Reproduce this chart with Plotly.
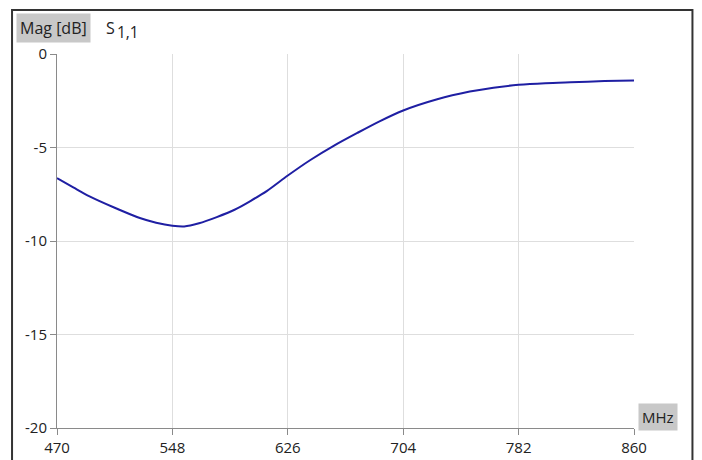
import plotly.graph_objects as go

freq_mhz = [470, 481, 492, 509, 526, 537, 548, 556, 566, 578, 590, 601, 612, 626, 641,
            657, 673, 688, 704, 727, 749, 765, 782, 800, 817, 840, 860]
s11_db = [-6.64, -7.13, -7.61, -8.22, -8.77, -9.02, -9.18, -9.22, -9.05, -8.72, -8.33,
          -7.85, -7.32, -6.50, -5.68, -4.91, -4.22, -3.60, -3.02, -2.42, -2.01, -1.80,
          -1.65, -1.56, -1.51, -1.45, -1.42]
x_ticks = [470, 548, 626, 704, 782, 860]
y_ticks = [0, -5, -10, -15, -20]

W, H = 702, 460
OFF = 8  # page body margin
ML, MT = 57 - OFF, 54 - OFF
MR = W - (634.5 - OFF)
MB = H - (428.5 - OFF)
PW, PH = W - ML - MR, H - MT - MB

def px(x):  # page pixel -> paper
    return (x - OFF - ML) / PW

def py(y):
    return (H - MB - (y - OFF)) / PH

FONT = "Open Sans"

fig = go.Figure()
fig.add_trace(go.Scatter(x=freq_mhz, y=s11_db, mode="lines",
                         line=dict(color="#1f1fa3", width=2, shape="spline", smoothing=0.8),
                         hoverinfo="skip", showlegend=False))

axis_common = dict(showgrid=True, gridcolor="#dedede", gridwidth=1,
                   showline=True, linecolor="#8a8a8a", linewidth=1,
                   ticks="outside", ticklen=6, tickcolor="#8a8a8a",
                   zeroline=False, fixedrange=True,
                   tickfont=dict(family=FONT, size=15, color="#222"))

fig.update_layout(
    width=W, height=H,
    margin=dict(l=ML, r=MR, t=MT, b=MB),
    paper_bgcolor="white", plot_bgcolor="white",
    font=dict(family=FONT, size=15, color="#222"),
    xaxis=dict(range=[470, 860], tickvals=x_ticks, ticktext=[str(v) for v in x_ticks],
               **axis_common),
    yaxis=dict(range=[-20, 0], tickvals=y_ticks, ticktext=[str(v) for v in y_ticks],
               **axis_common),
    shapes=[dict(type="rect", xref="paper", yref="paper",
                 x0=px(12), x1=px(693), y0=py(480), y1=py(10),
                 line=dict(color="#333", width=2), fillcolor="rgba(0,0,0,0)", layer="above")],
    annotations=[
        dict(text="Mag [dB]", xref="paper", yref="paper", x=px(16), y=py(28),
             xanchor="left", yanchor="middle", showarrow=False,
             bgcolor="#c8c8c8", borderpad=3, font=dict(size=16, color="#222")),
        dict(text="S", xref="paper", yref="paper", x=px(104), y=py(28),
             xanchor="left", yanchor="middle", showarrow=False,
             font=dict(size=16, color="#222")),
        dict(text="1,1", xref="paper", yref="paper", x=px(115), y=py(32),
             xanchor="left", yanchor="middle", showarrow=False,
             font=dict(size=15.5, color="#222")),
        dict(text="MHz", xref="paper", yref="paper", x=px(639), y=py(417),
             xanchor="left", yanchor="middle", showarrow=False,
             bgcolor="#c8c8c8", borderpad=3, font=dict(size=15, color="#222")),
    ],
)

fig.write_html("out.html")
